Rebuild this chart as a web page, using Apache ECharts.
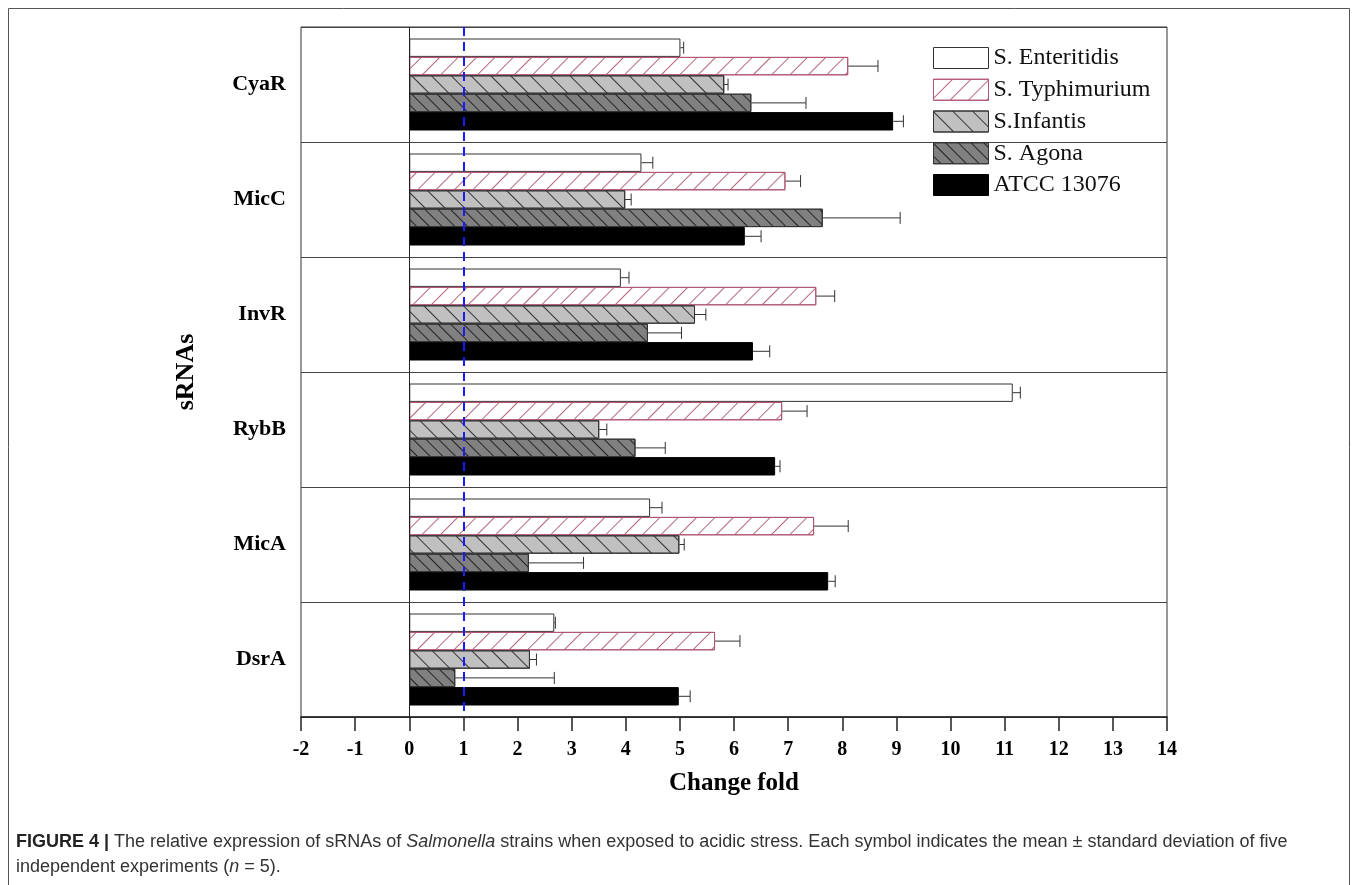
<!DOCTYPE html>
<html><head><meta charset="utf-8">
<script src="https://cdn.jsdelivr.net/npm/echarts@6/dist/echarts.min.js"></script>
<style>html,body{margin:0;padding:0;background:#fff}#c{width:1357px;height:885px}</style>
</head><body><div id="c"></div>
<script>
// categories listed top to bottom
const categories = ['CyaR', 'MicC', 'InvR', 'RybB', 'MicA', 'DsrA'];
const xTicks = [-2, -1, 0, 1, 2, 3, 4, 5, 6, 7, 8, 9, 10, 11, 12, 13, 14];
const seriesNames = ['S. Enteritidis', 'S. Typhimurium', 'S.Infantis', 'S. Agona', 'ATCC 13076'];

const enteritidis    = [5.01, 4.29, 3.91, 11.15, 4.45, 2.68];
const enteritidisErr = [0.06, 0.21, 0.15, 0.14, 0.22, 0.02];
const typhimurium    = [8.11, 6.95, 7.52, 6.89, 7.48, 5.65];
const typhimuriumErr = [0.55, 0.28, 0.34, 0.46, 0.63, 0.46];
const infantis       = [5.82, 3.99, 5.28, 3.51, 4.99, 2.23];
const infantisErr    = [0.07, 0.11, 0.20, 0.14, 0.09, 0.12];
const agona          = [6.32, 7.64, 4.41, 4.18, 2.21, 0.85];
const agonaErr       = [1.01, 1.43, 0.62, 0.55, 1.01, 1.83];
const atcc           = [8.94, 6.20, 6.35, 6.76, 7.74, 4.98];
const atccErr        = [0.19, 0.30, 0.31, 0.09, 0.13, 0.21];

const refLine = 1;

const values = [enteritidis, typhimurium, infantis, agona, atcc];
const errors = [enteritidisErr, typhimuriumErr, infantisErr, agonaErr, atccErr];

const styles = [
  { color: '#ffffff', borderColor: '#333333', borderWidth: 1 },
  { color: '#ffffff', borderColor: '#b0566f', borderWidth: 1,
    decal: { symbol: 'rect', symbolSize: 1, dashArrayX: [1, 0], dashArrayY: [1, 11.5], rotation: -Math.PI / 4, color: '#b8667d' } },
  { color: '#c0c0c0', borderColor: '#333333', borderWidth: 1,
    decal: { symbol: 'rect', symbolSize: 1, dashArrayX: [1, 0], dashArrayY: [1, 12.5], rotation: Math.PI / 4, color: '#333333' } },
  { color: '#808080', borderColor: '#333333', borderWidth: 1,
    decal: { symbol: 'rect', symbolSize: 1, dashArrayX: [1, 0], dashArrayY: [1, 7.5], rotation: Math.PI / 4, color: '#222222' } },
  { color: '#000000', borderColor: '#000000', borderWidth: 1 }
];

const serif = '"Liberation Serif", "Times New Roman", serif';
const sans = '"Liberation Sans", Arial, sans-serif';
const NS = seriesNames.length;

function errorSeries(idx) {
  return {
    type: 'custom',
    name: seriesNames[idx] + ' SD',
    silent: true,
    z: 4,
    data: values[idx].map((v, i) => [v, i, errors[idx][i]]),
    encode: { x: 0, y: 1 },
    renderItem: function (params, api) {
      const v = api.value(0), c = api.value(1), e = api.value(2);
      const p0 = api.coord([v, c]);
      const p1 = api.coord([v + e, c]);
      const band = api.size([0, 1])[1];
      const region = band * 0.8;
      const h = region / NS;
      const y = p0[1] - region / 2 + h * (idx + 0.5);
      return {
        type: 'group',
        children: [
          { type: 'line', shape: { x1: p0[0], y1: y, x2: p1[0], y2: y }, style: { stroke: '#333', lineWidth: 1 } },
          { type: 'line', shape: { x1: p1[0], y1: y - 6, x2: p1[0], y2: y + 6 }, style: { stroke: '#333', lineWidth: 1 } }
        ]
      };
    }
  };
}

const series = [];
seriesNames.forEach((name, i) => {
  const s = {
    type: 'bar',
    name: name,
    data: values[i],
    barGap: '0%',
    barCategoryGap: '20%',
    itemStyle: styles[i],
    z: 2
  };
  if (i === 0) {
    s.markLine = {
      silent: true,
      symbol: 'none',
      label: { show: false },
      z: 6,
      data: [
        { xAxis: 0, lineStyle: { color: '#222', type: 'solid', width: 1 } },
        { xAxis: refLine, lineStyle: { color: '#1a1aff', type: [9, 6], width: 2 } }
      ]
    };
  }
  series.push(s);
});
seriesNames.forEach((n, i) => series.push(errorSeries(i)));

const chart = echarts.init(document.getElementById('c'), null, { renderer: 'canvas' });
chart.setOption({
  animation: false,
  backgroundColor: '#ffffff',
  grid: { left: 301, right: 190, top: 27, bottom: 168, show: true, borderColor: '#333', borderWidth: 1, backgroundColor: 'transparent' },
  legend: {
    data: seriesNames,
    orient: 'vertical',
    left: 928,
    top: 41,
    itemWidth: 55,
    itemHeight: 21,
    itemGap: 7.75,
    icon: 'rect',
    itemStyle: { borderWidth: 1 },
    textStyle: { fontFamily: serif, fontSize: 24, color: '#111', padding: [0, 0, 0, 0] }
  },
  xAxis: {
    type: 'value',
    min: xTicks[0],
    max: xTicks[xTicks.length - 1],
    interval: 1,
    name: 'Change fold',
    nameLocation: 'middle',
    nameGap: 54,
    nameTextStyle: { fontFamily: serif, fontWeight: 'bold', fontSize: 25, color: '#000' },
    axisLine: { show: true, onZero: false, lineStyle: { color: '#222', width: 1.5 } },
    axisTick: { show: true, length: 14, lineStyle: { color: '#222', width: 1.5 } },
    axisLabel: { margin: 23, fontFamily: serif, fontWeight: 'bold', fontSize: 20, color: '#000' },
    splitLine: { show: false }
  },
  yAxis: {
    type: 'category',
    data: categories,
    inverse: true,
    name: 'sRNAs',
    nameLocation: 'middle',
    nameRotate: 90,
    nameGap: 102,
    nameTextStyle: { fontFamily: serif, fontWeight: 'bold', fontSize: 26, color: '#000' },
    axisLine: { show: false },
    axisTick: { show: false },
    axisLabel: { margin: 15, fontFamily: serif, fontWeight: 'bold', fontSize: 22, color: '#000' },
    splitLine: { show: true, lineStyle: { color: '#444', width: 1 } }
  },
  graphic: [
    { type: 'rect', silent: true, shape: { x: 8.5, y: 8.5, width: 1341, height: 900 }, style: { fill: 'none', stroke: '#555', lineWidth: 1 } },
    {
      type: 'text', left: 16, top: 833, silent: true,
      style: {
        text: '{b|FIGURE 4 |} The relative expression of sRNAs of {i|Salmonella} strains when exposed to acidic stress. Each symbol indicates the mean \u00b1 standard deviation of five',
        font: '18px ' + sans,
        fill: '#333',
        rich: {
          b: { fontWeight: 'bold', fontSize: 18, fontFamily: sans, fill: '#222' },
          i: { fontStyle: 'italic', fontSize: 18, fontFamily: sans, fill: '#333' }
        }
      }
    },
    {
      type: 'text', left: 16, top: 858, silent: true,
      style: {
        text: 'independent experiments ({i|n} = 5).',
        font: '18px ' + sans,
        fill: '#333',
        rich: {
          i: { fontStyle: 'italic', fontSize: 18, fontFamily: sans, fill: '#333' }
        }
      }
    }
  ],
  series: series
});
</script>
</body></html>
